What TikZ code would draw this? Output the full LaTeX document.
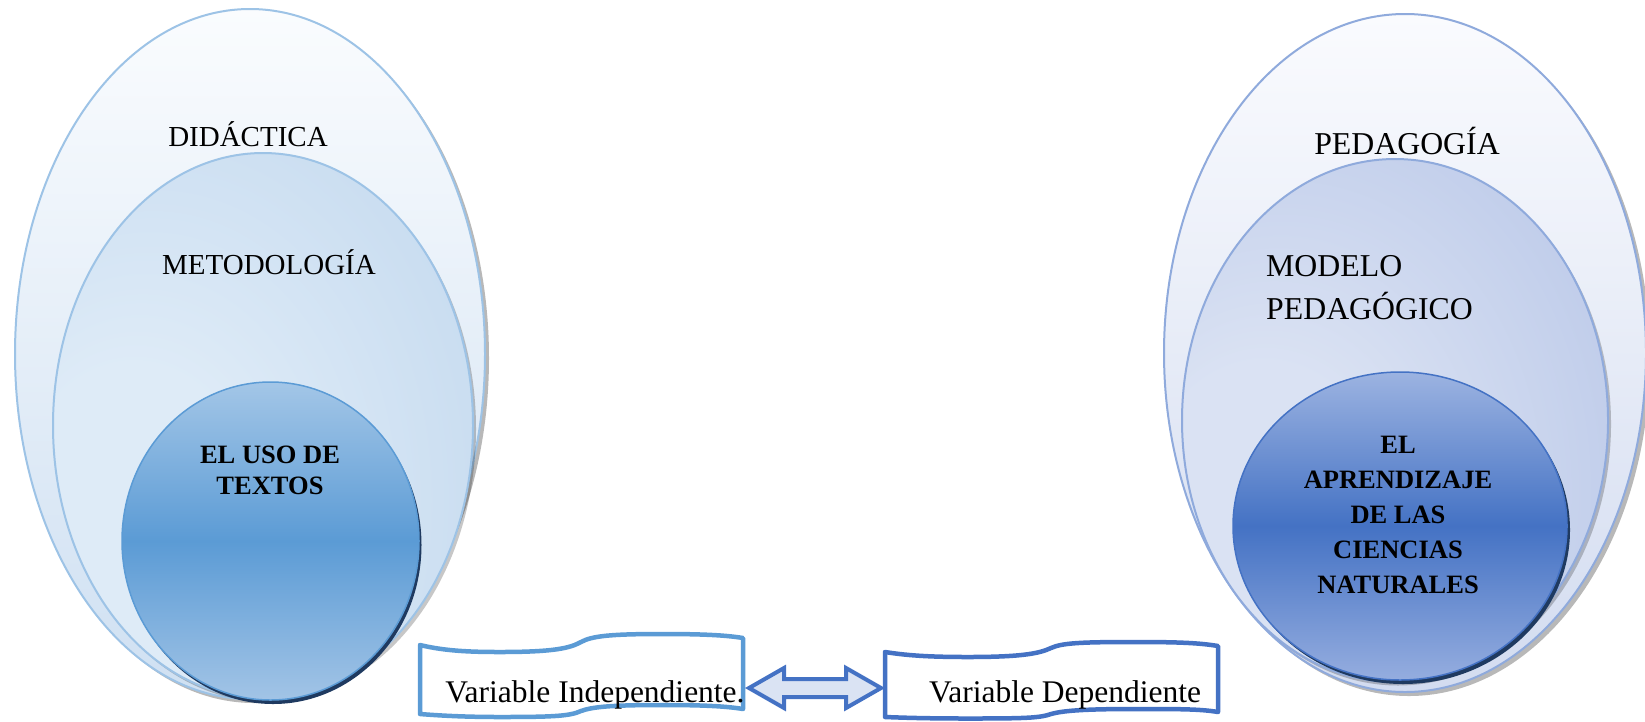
\documentclass[tikz,border=0pt]{standalone}
\usepackage{fontspec}
\setmainfont{Liberation Serif}
\usetikzlibrary{shapes.geometric,calc}
\definecolor{lstroke}{HTML}{9DC3E6}
\definecolor{rstroke}{HTML}{8FAADC}
\definecolor{lotop}{HTML}{FAFCFE}
\definecolor{lobot}{HTML}{CFE0F2}
\definecolor{lmA}{HTML}{DEEBF7}
\definecolor{lmC}{HTML}{C8DCF0}
\definecolor{lmB}{HTML}{A9C7E7}
\definecolor{liA}{HTML}{A3C6E7}
\definecolor{liM}{HTML}{5B9BD5}
\definecolor{liB}{HTML}{A2C4E6}
\definecolor{rotop}{HTML}{FAFBFE}
\definecolor{robot}{HTML}{D3DCF0}
\definecolor{rmA}{HTML}{DAE2F3}
\definecolor{rmC}{HTML}{BFCCEA}
\definecolor{rmB}{HTML}{98ADDC}
\definecolor{riA}{HTML}{9CB3E1}
\definecolor{riM}{HTML}{4472C4}
\definecolor{riB}{HTML}{95ADDF}
\definecolor{tapeblue}{HTML}{5B9BD5}
\definecolor{darkblue}{HTML}{4472C4}
\definecolor{arrowfill}{HTML}{DAE3F3}
\definecolor{navy}{HTML}{1F3A60}
\pgfdeclareradialshading{midLshade}{\pgfpoint{-18bp}{-10bp}}{color(0bp)=(lmA); color(14bp)=(lmA); color(40bp)=(lmC); color(70bp)=(lmB); color(100bp)=(lmB)}
\pgfdeclareradialshading{midRshade}{\pgfpoint{-18bp}{-10bp}}{color(0bp)=(rmA); color(14bp)=(rmA); color(40bp)=(rmC); color(70bp)=(rmB); color(100bp)=(rmB)}
\begin{document}
\begin{tikzpicture}[x=1pt,y=-1pt,
  shell/.style={ellipse, inner sep=0pt, outer sep=0pt, line width=2pt},
  shadowE/.style={ellipse, inner sep=0pt, outer sep=0pt, fill=black, opacity=0.28},
  coreshadow/.style={ellipse, inner sep=0pt, outer sep=0pt, fill=navy},
  lbl/.style={inner sep=0pt, text=black},
  tapeL/.style={draw=tapeblue, line width=4.5pt, fill=white, line join=round},
  tapeR/.style={draw=darkblue, line width=4.5pt, fill=white, line join=round},
  dblarrow/.style={draw=darkblue, line width=4pt, fill=arrowfill}
]
\useasboundingbox (0,0) rectangle (1645,721);

% ---------- left group ----------
\node[shadowE, minimum width=470pt, minimum height=690pt] (loutsh) at (254,358) {};
\node[shell, minimum width=470pt, minimum height=690pt, draw=lstroke, top color=lotop, bottom color=lobot] (lout) at (250,354) {};
\node[shadowE, minimum width=420pt, minimum height=545pt, opacity=0.22] (lmidsh) at (266,429) {};
\node[shell, minimum width=420pt, minimum height=545pt, draw=lstroke, shading=midLshade] (lmid) at (263,425.5) {};
\node[coreshadow, minimum width=297pt, minimum height=318pt] (linsh) at (273,545) {};
\node[shell, minimum width=297pt, minimum height=318pt, draw=tapeblue, line width=1.5pt, top color=liA, bottom color=liB, middle color=liM] (lin) at (270.5,541) {};

\node[lbl, font={\fontsize{29}{34}\selectfont}] (tdid) at (248,134) {DIDÁCTICA};
\node[lbl, font={\fontsize{29}{34}\selectfont}] (tmet) at (269,262) {METODOLOGÍA};
\node[lbl, align=center, font={\bfseries\fontsize{26.5}{31}\selectfont}] (tuso) at (270,470) {EL USO DE\\TEXTOS};

% ---------- right group ----------
\node[shadowE, minimum width=482pt, minimum height=678pt] (routsh) at (1409,357) {};
\node[shell, minimum width=482pt, minimum height=678pt, draw=rstroke, top color=rotop, bottom color=robot] (rout) at (1405,353) {};
\node[shadowE, minimum width=426pt, minimum height=523pt, opacity=0.22] (rmidsh) at (1398,424) {};
\node[shell, minimum width=426pt, minimum height=523pt, draw=rstroke, shading=midRshade] (rmid) at (1395,420.5) {};
\node[coreshadow, minimum width=334pt, minimum height=308pt] (rinsh) at (1403,530) {};
\node[shell, minimum width=334pt, minimum height=308pt, draw=darkblue, line width=1.5pt, top color=riA, bottom color=riB, middle color=riM] (rin) at (1400,526) {};

\node[lbl, font={\fontsize{31.8}{37}\selectfont}] (tped) at (1407,141) {PEDAGOGÍA};
\node[lbl, anchor=west, align=left, font={\fontsize{31.8}{43}\selectfont}] (tmod) at (1266,287.5) {MODELO\\PEDAGÓGICO};
\node[lbl, align=center, font={\bfseries\fontsize{26.5}{35}\selectfont}] (tapr) at (1398,515) {EL\\APRENDIZAJE\\DE LAS\\CIENCIAS\\NATURALES};

% ---------- variable boxes ----------
\draw[tapeL] (420,645) .. controls (445,651) and (470,652) .. (500,652)
  .. controls (555,652) and (570,648) .. (581,642)
  .. controls (592,636) and (610,634) .. (662,634)
  .. controls (700,634) and (725,635) .. (743,638) -- (743,709)
  .. controls (725,706) and (700,705) .. (662,705)
  .. controls (610,705) and (592,707) .. (581,711)
  .. controls (570,716) and (555,717) .. (500,717)
  .. controls (470,717) and (445,716) .. (420,714) -- cycle;
\draw[tapeR] (885,652) .. controls (910,656) and (935,657) .. (968,657)
  .. controls (1025,657) and (1040,653) .. (1051,648)
  .. controls (1062,643) and (1080,642) .. (1135,642)
  .. controls (1180,642) and (1200,643) .. (1218,646) -- (1218,712)
  .. controls (1200,709) and (1180,709) .. (1135,709)
  .. controls (1080,709) and (1062,711) .. (1051,714)
  .. controls (1040,718) and (1025,718.5) .. (968,718.5)
  .. controls (935,718.5) and (910,718) .. (885,717) -- cycle;
\node[lbl, font={\fontsize{31.5}{37}\selectfont}] (lvar) at (595,695) {Variable Independiente.};
\node[lbl, font={\fontsize{31.5}{37}\selectfont}] (rvar) at (1065,695) {Variable Dependiente};

% ---------- double arrow ----------
\coordinate (aL) at (749,688);
\coordinate (aR) at (881,688);
\draw[dblarrow] (aL) -- ++(35,-20) -- ++(0,11) -- ($(aR)+(-35,-9)$) -- ++(0,-11) -- (aR)
  -- ++(-35,20) -- ++(0,-11) -- ($(aL)+(35,9)$) -- ++(0,11) -- cycle;
\end{tikzpicture}
\end{document}
